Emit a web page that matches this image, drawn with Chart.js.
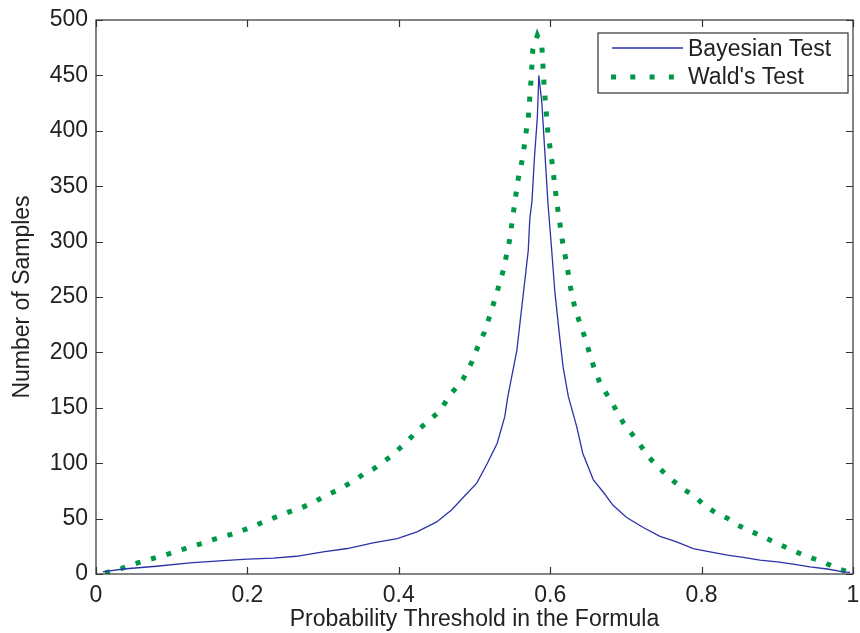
<!DOCTYPE html>
<html lang="en">
<head>
<meta charset="UTF-8">
<title>Bayesian vs Wald</title>
<script src="https://cdn.jsdelivr.net/npm/chart.js"></script>
<style>
  html, body { margin: 0; padding: 0; background: #fff; }
  #wrap { width: 860px; height: 633px; }
</style>
</head>
<body>
<div id="wrap"><canvas id="chart" width="860" height="633"></canvas></div>
<script>
// ---- data ----
const bayesX = [0.009, 0.036, 0.08, 0.124, 0.168, 0.2, 0.234, 0.265, 0.3, 0.332, 0.366, 0.398, 0.424, 0.45,
  0.47, 0.485, 0.503, 0.517, 0.53, 0.54, 0.544, 0.55, 0.556, 0.561, 0.567, 0.571, 0.573, 0.576, 0.579, 0.583,
  0.585, 0.589, 0.593, 0.597, 0.602, 0.606, 0.612, 0.617, 0.624, 0.635, 0.643, 0.657, 0.67, 0.683, 0.701,
  0.723, 0.745, 0.767, 0.789, 0.811, 0.834, 0.855, 0.877, 0.9, 0.921, 0.943, 0.966, 0.987, 0.996];
const bayesY = [2, 4.5, 7, 10, 12, 13.5, 14.4, 16, 20, 23, 28, 32, 38, 47,
  58, 69, 82, 100, 118, 142, 160, 181, 202, 232, 268, 292, 320, 337, 374, 412,
  450, 425, 380, 335, 292, 256, 217, 187, 160, 133, 109, 85, 74, 62, 51,
  42, 34, 29, 23, 20, 17, 15, 12.6, 11, 9, 6.5, 4.5, 2, 1.5];

const waldX = [0.012, 0.034, 0.055, 0.095, 0.118, 0.137, 0.159, 0.18, 0.2, 0.218, 0.236, 0.255, 0.272, 0.289,
  0.301, 0.317, 0.328, 0.345, 0.353, 0.367, 0.379, 0.391, 0.413, 0.427, 0.441, 0.454, 0.468, 0.477, 0.485,
  0.497, 0.506, 0.513, 0.522, 0.53, 0.538, 0.546, 0.551, 0.557, 0.564, 0.568, 0.571, 0.575, 0.577, 0.583,
  0.589, 0.592, 0.597, 0.602, 0.609, 0.616, 0.622, 0.627, 0.633, 0.645, 0.657, 0.666, 0.683, 0.697, 0.713,
  0.731, 0.742, 0.754, 0.775, 0.789, 0.804, 0.819, 0.835, 0.848, 0.867, 0.886, 0.902, 0.921, 0.939, 0.96,
  0.979, 0.993];
const waldY = [1, 5, 10, 18, 23, 27, 32, 36, 41, 46, 51, 56, 60, 65,
  70, 75, 79, 86, 90, 95, 101, 107, 121, 131, 139, 147, 162, 169, 176,
  192, 208, 218, 237, 255, 274, 300, 324, 354, 377, 398, 411, 449, 473, 486,
  476, 440, 398, 374, 334, 301, 279, 258, 239, 215, 188, 172, 153, 136, 122,
  105, 97, 89, 77, 71, 62, 55, 50, 44, 38, 32, 27, 21, 16, 11,
  5, 2];

const xTicks = [0, 0.2, 0.4, 0.6, 0.8, 1];
const xTickLabels = ['0', '0.2', '0.4', '0.6', '0.8', '1'];
const yTicks = [0, 50, 100, 150, 200, 250, 300, 350, 400, 450, 500];
const seriesNames = ['Bayesian Test', "Wald's Test"];

const BLUE = 'rgb(44, 50, 168)';
const GREEN = 'rgb(0, 152, 70)';
const FONT = { family: '"Liberation Sans", Arial, sans-serif', size: 23 };

function toPoints(xs, ys) {
  return xs.map((x, i) => ({ x: x, y: ys[i] }));
}

// frame, inward ticks and boxed legend like the matlab figure
const framePlugin = {
  id: 'frame',
  afterDraw(chart) {
    const ctx = chart.ctx;
    const a = chart.chartArea;
    const sx = chart.scales.x, sy = chart.scales.y;
    const len = 7;
    ctx.save();
    ctx.strokeStyle = '#333';
    ctx.lineWidth = 1.2;
    ctx.strokeRect(a.left, a.top, a.right - a.left, a.bottom - a.top);
    ctx.beginPath();
    xTicks.forEach(v => {
      const px = Math.round(sx.getPixelForValue(v)) + 0.5;
      ctx.moveTo(px, a.bottom); ctx.lineTo(px, a.bottom - len);
      ctx.moveTo(px, a.top); ctx.lineTo(px, a.top + len);
    });
    yTicks.forEach(v => {
      const py = Math.round(sy.getPixelForValue(v)) + 0.5;
      ctx.moveTo(a.left, py); ctx.lineTo(a.left + len, py);
      ctx.moveTo(a.right, py); ctx.lineTo(a.right - len, py);
    });
    ctx.stroke();

    // legend box
    const bx = a.right - 255, by = a.top + 13, bw = 250, bh = 60;
    ctx.fillStyle = '#fff';
    ctx.fillRect(bx, by, bw, bh);
    ctx.strokeStyle = '#333';
    ctx.lineWidth = 1.2;
    ctx.strokeRect(bx, by, bw, bh);

    ctx.lineWidth = 1.5;
    ctx.strokeStyle = BLUE;
    ctx.beginPath();
    ctx.moveTo(bx + 14, by + 15); ctx.lineTo(bx + 85, by + 15);
    ctx.stroke();

    ctx.lineWidth = 5;
    ctx.strokeStyle = GREEN;
    ctx.setLineDash([5, 14.3]);
    ctx.beginPath();
    ctx.moveTo(bx + 13, by + 44); ctx.lineTo(bx + 80, by + 44);
    ctx.stroke();
    ctx.setLineDash([]);

    ctx.fillStyle = '#222';
    ctx.font = FONT.size + 'px ' + FONT.family;
    ctx.textBaseline = 'alphabetic';
    ctx.fillText(seriesNames[0], bx + 90, by + 23);
    ctx.fillText(seriesNames[1], bx + 90, by + 51);
    ctx.restore();
  }
};

const config = {
  type: 'line',
  data: {
    datasets: [
      {
        label: seriesNames[0],
        data: toPoints(bayesX, bayesY),
        borderColor: BLUE,
        borderWidth: 1.3,
        pointRadius: 0,
        tension: 0
      },
      {
        label: seriesNames[1],
        data: toPoints(waldX, waldY),
        borderColor: GREEN,
        borderWidth: 5,
        borderDash: [5, 11],
        pointRadius: 0,
        tension: 0
      }
    ]
  },
  options: {
    responsive: false,
    animation: false,
    layout: { padding: { top: 20, right: 7, left: 0, bottom: 0 } },
    plugins: {
      legend: { display: false },
      tooltip: { enabled: false }
    },
    scales: {
      x: {
        type: 'linear',
        min: 0,
        max: 1,
        afterFit: s => { s.height = 59; s.paddingLeft = 0; s.paddingRight = 0; },
        afterBuildTicks: s => { s.ticks = xTicks.map(v => ({ value: v })); },
        ticks: {
          color: '#222',
          font: FONT,
          padding: 0,
          callback: (v) => xTickLabels[xTicks.indexOf(v)] ?? ''
        },
        grid: { display: false },
        border: { display: false },
        title: {
          display: true,
          text: 'Probability Threshold in the Formula',
          color: '#222',
          font: FONT,
          padding: { top: 0, bottom: 0 }
        }
      },
      y: {
        min: 0,
        max: 500,
        afterFit: s => { s.width = 96; s.paddingTop = 0; s.paddingBottom = 0; },
        afterBuildTicks: s => { s.ticks = yTicks.map(v => ({ value: v })); },
        ticks: {
          color: '#222',
          font: FONT,
          padding: 0
        },
        grid: { display: false },
        border: { display: false },
        title: {
          display: true,
          text: 'Number of Samples',
          color: '#222',
          font: FONT,
          padding: { top: 9, bottom: 0 }
        }
      }
    }
  },
  plugins: [framePlugin]
};

const chart = new Chart(document.getElementById('chart').getContext('2d'), config);
</script>
</body>
</html>
